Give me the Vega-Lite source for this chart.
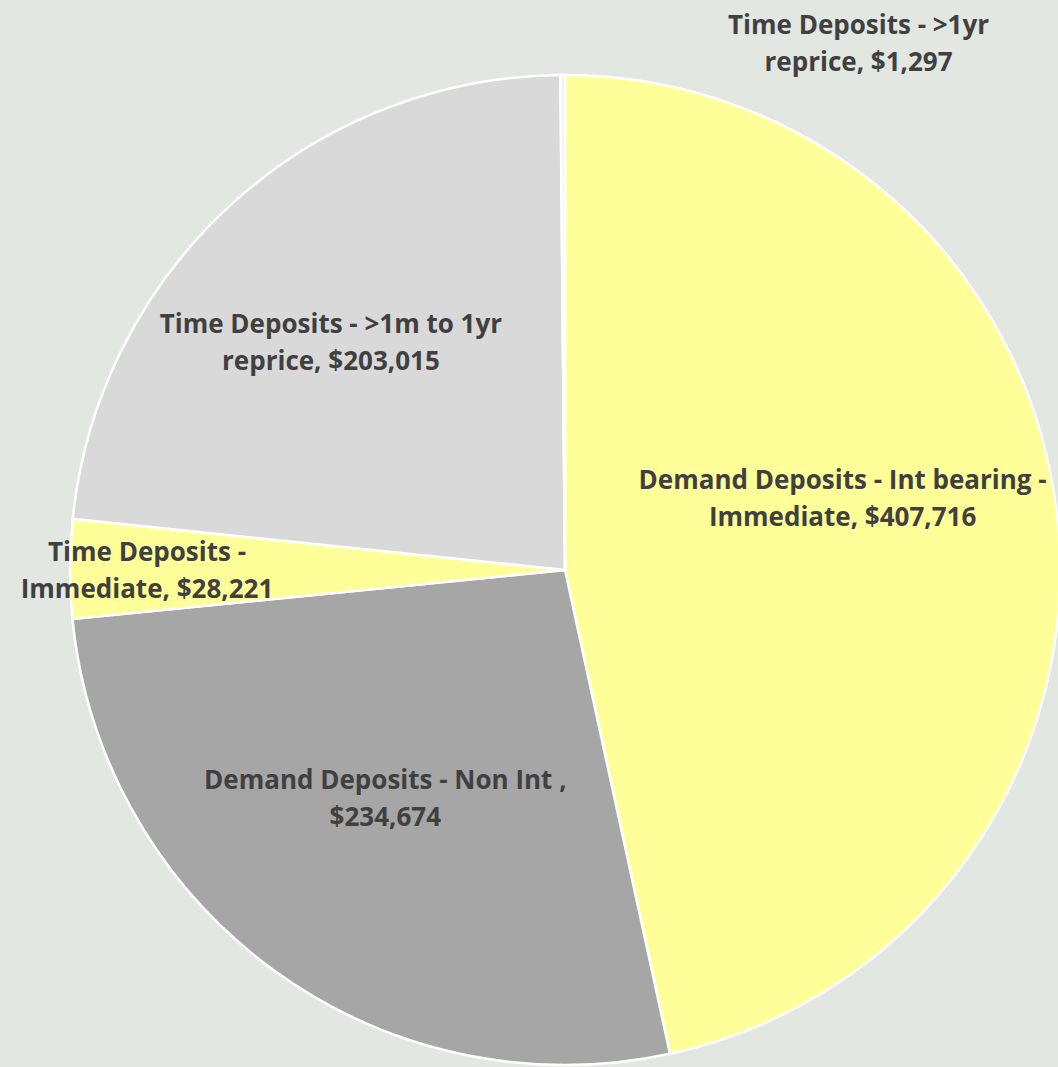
{
  "$schema": "https://vega.github.io/schema/vega-lite/v6.json",
  "width": 986,
  "height": 992,
  "autosize": "none",
  "padding": {"left": 72, "top": 74, "right": 0, "bottom": 1},
  "background": "#E2E7E1",
  "view": {"stroke": null},
  "data": {
    "values": [
      {"idx": 1, "category": "Demand Deposits - Int bearing - Immediate", "value": 407716, "label": "Demand Deposits - Int bearing -\nImmediate, $407,716"},
      {"idx": 2, "category": "Demand Deposits - Non Int", "value": 234674, "label": "Demand Deposits - Non Int ,\n$234,674"},
      {"idx": 3, "category": "Time Deposits - Immediate", "value": 28221, "label": "Time Deposits -\nImmediate, $28,221"},
      {"idx": 4, "category": "Time Deposits - >1m to 1yr reprice", "value": 203015, "label": "Time Deposits - >1m to 1yr\nreprice, $203,015"},
      {"idx": 5, "category": "Time Deposits - >1yr reprice", "value": 1297, "label": "Time Deposits - >1yr\nreprice, $1,297"}
    ]
  },
  "encoding": {
    "theta": {"field": "value", "type": "quantitative", "stack": true},
    "order": {"field": "idx", "type": "quantitative"}
  },
  "layer": [
    {
      "mark": {"type": "arc", "outerRadius": 495, "stroke": "#FFFFFF", "strokeWidth": 2.5},
      "encoding": {
        "color": {
          "field": "category",
          "type": "nominal",
          "scale": {
            "domain": ["Demand Deposits - Int bearing - Immediate", "Demand Deposits - Non Int", "Time Deposits - Immediate", "Time Deposits - >1m to 1yr reprice", "Time Deposits - >1yr reprice"],
            "range": ["#FFFF99", "#A6A6A6", "#FFFF99", "#D9D9D9", "#F2F2F2"]
          },
          "legend": null
        }
      }
    },
    {
      "mark": {"type": "text", "radius": 245, "dx": 34, "dy": -63, "font": "Open Sans", "fontWeight": "bold", "fontSize": 26, "lineHeight": 37, "lineBreak": "\n", "color": "#404040", "align": "center", "baseline": "middle"},
      "encoding": {"text": {"condition": {"test": "datum.idx === 1", "field": "label"}, "value": ""}}
    },
    {
      "mark": {"type": "text", "radius": 285, "dx": -12, "dy": -19, "font": "Open Sans", "fontWeight": "bold", "fontSize": 26, "lineHeight": 37, "lineBreak": "\n", "color": "#404040", "align": "center", "baseline": "middle"},
      "encoding": {"text": {"condition": {"test": "datum.idx === 2", "field": "label"}, "value": ""}}
    },
    {
      "mark": {"type": "text", "radius": 418, "dx": 0, "dy": -16, "font": "Open Sans", "fontWeight": "bold", "fontSize": 26, "lineHeight": 37, "lineBreak": "\n", "color": "#404040", "align": "center", "baseline": "middle"},
      "encoding": {"text": {"condition": {"test": "datum.idx === 3", "field": "label"}, "value": ""}}
    },
    {
      "mark": {"type": "text", "radius": 330, "dx": -12, "dy": -1, "font": "Open Sans", "fontWeight": "bold", "fontSize": 26, "lineHeight": 37, "lineBreak": "\n", "color": "#404040", "align": "center", "baseline": "middle"},
      "encoding": {"text": {"condition": {"test": "datum.idx === 4", "field": "label"}, "value": ""}}
    },
    {
      "mark": {"type": "text", "radius": 526, "dx": 296, "dy": -18, "font": "Open Sans", "fontWeight": "bold", "fontSize": 26, "lineHeight": 37, "lineBreak": "\n", "color": "#404040", "align": "center", "baseline": "middle"},
      "encoding": {"text": {"condition": {"test": "datum.idx === 5", "field": "label"}, "value": ""}}
    }
  ]
}
